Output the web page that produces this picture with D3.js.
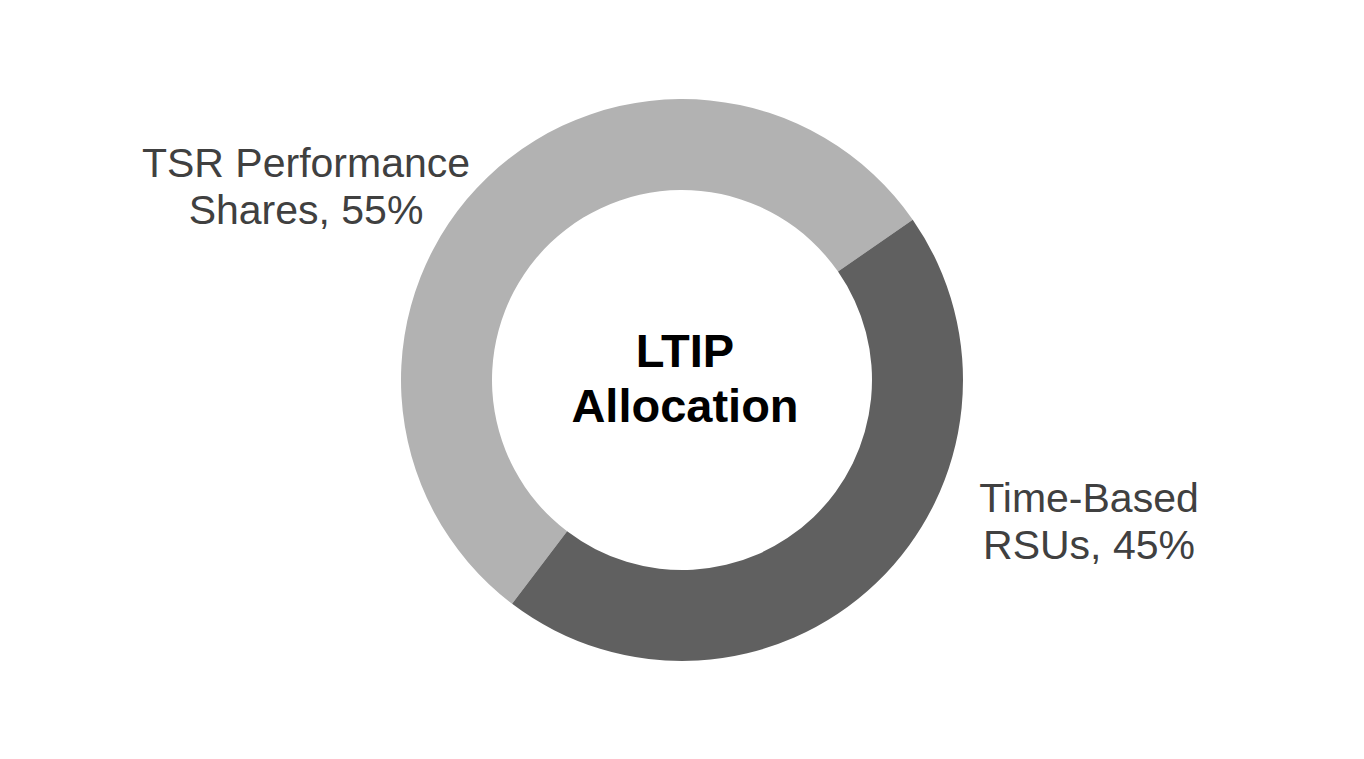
<!DOCTYPE html>
<html>
<head>
<meta charset="utf-8">
<script src="https://cdn.jsdelivr.net/npm/d3@7"></script>
<style>
  html, body { margin: 0; padding: 0; background: #ffffff; }
  svg { display: block; }
</style>
</head>
<body>
<svg id="chart" width="1364" height="759"></svg>
<script>
const categories = ["TSR Performance Shares", "Time-Based RSUs"];
const values = [55, 45];
const labelLines = [["TSR Performance", "Shares, 55%"], ["Time-Based", "RSUs, 45%"]];
const colors = ["#b2b2b2", "#606060"];
const centerTitle = ["LTIP", "Allocation"];

const svg = d3.select("#chart");
const cx = 682, cy = 380;
const outerR = 281, innerR = 190;

const data = categories.map((c, i) => ({ name: c, value: values[i], lines: labelLines[i], color: colors[i] }));

const startDeg = -142.8;
const pie = d3.pie().sort(null).value(d => d.value)
  .startAngle(startDeg * Math.PI / 180)
  .endAngle((startDeg + 360) * Math.PI / 180);
const arc = d3.arc().innerRadius(innerR).outerRadius(outerR);

const g = svg.append("g").attr("transform", `translate(${cx},${cy})`);
g.selectAll("path").data(pie(data)).join("path")
  .attr("d", arc)
  .attr("fill", d => d.data.color);

// Labels
const labelPos = [
  { x: 306, y: 177 },
  { x: 1089, y: 512 }
];
data.forEach((d, i) => {
  const t = svg.append("text")
    .attr("x", labelPos[i].x)
    .attr("y", labelPos[i].y)
    .attr("text-anchor", "middle")
    .attr("font-family", "Liberation Sans, Arial, sans-serif")
    .attr("font-size", 41)
    .attr("fill", "#404040");
  d.lines.forEach((line, j) => {
    t.append("tspan").attr("x", labelPos[i].x).attr("y", labelPos[i].y + j * 47).text(line);
  });
});

// Center title
const ct = svg.append("text")
  .attr("text-anchor", "middle")
  .attr("font-family", "Liberation Sans, Arial, sans-serif")
  .attr("font-weight", "bold")
  .attr("font-size", 47)
  .attr("fill", "#000000");
centerTitle.forEach((line, j) => {
  ct.append("tspan").attr("x", cx + 3).attr("y", 367 + j * 55).text(line);
});
</script>
</body>
</html>
